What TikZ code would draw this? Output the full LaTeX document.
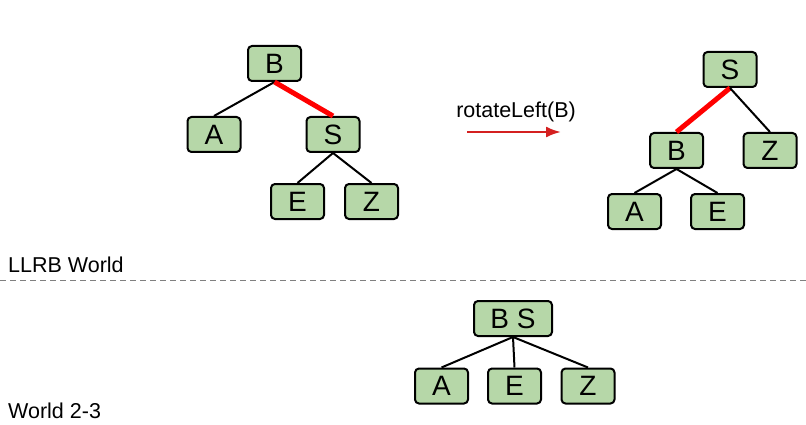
\documentclass[tikz,border=0pt]{standalone}
\usepackage{fontspec}
\setmainfont{Liberation Sans}
\usetikzlibrary{arrows.meta}
\definecolor{leafgreen}{HTML}{B6D7A8}
\definecolor{arrowred}{HTML}{D42020}
\begin{document}
\begin{tikzpicture}[x=1pt, y=-1pt, >={Latex[length=15pt,width=11pt]},
  key/.style={draw, line width=2pt, rounded corners=4pt, fill=leafgreen,
    minimum width=53pt, minimum height=35pt, inner sep=0pt,
    font=\fontsize{28}{28}\selectfont},
  link/.style={line width=2pt},
  redlink/.style={line width=5pt, red},
  world/.style={anchor=west, inner sep=0pt, font=\fontsize{21.5}{21.5}\selectfont}]
  \useasboundingbox (0,0) rectangle (806,425);
  % LLRB, before the rotation
  \node[key] (lB) at (274.5,63.5) {B};
  \node[key] (lA) at (214,134.5) {A};
  \node[key] (lS) at (333,134.5) {S};
  \node[key] (lE) at (297.5,201.5) {E};
  \node[key] (lZ) at (371.5,201.5) {Z};
  \draw[link] (lB.south) -- (lA.north);
  \draw[redlink] (lB.south) -- (lS.north);
  \draw[link] (lS.south) -- (lE.north);
  \draw[link] (lS.south) -- (lZ.north);
  % the rotation
  \coordinate (from) at (467,132);
  \coordinate (to) at (561,132);
  \draw[->, arrowred, line width=2.3pt] (from) -- (to);
  \node[inner sep=0pt, font=\fontsize{21.5}{21.5}\selectfont] (rot) at (516,112) {rotateLeft(B)};
  % LLRB, after the rotation
  \node[key] (rS) at (730,69.5) {S};
  \node[key] (rB) at (676.5,150.5) {B};
  \node[key] (rZ) at (770,150.5) {Z};
  \node[key] (rA) at (634.5,211.5) {A};
  \node[key] (rE) at (717.5,211.5) {E};
  \draw[redlink] (rS.south) -- (rB.north);
  \draw[link] (rS.south) -- (rZ.north);
  \draw[link] (rB.south) -- (rA.north);
  \draw[link] (rB.south) -- (rE.north);
  % the two worlds
  \node[world] (llrb) at (8,265) {LLRB World};
  \coordinate (cutL) at (0,280);
  \coordinate (cutR) at (806,280);
  \draw[gray, line width=0.8pt, dash pattern=on 6pt off 4pt] (cutL) -- (cutR);
  \node[world] (twothree) at (8,411) {World 2-3};
  % 2-3 tree
  \node[key, minimum width=78pt] (tBS) at (513,318.5) {B S};
  \node[key] (tA) at (441.5,386) {A};
  \node[key] (tE) at (514.5,386) {E};
  \node[key] (tZ) at (588,386) {Z};
  \draw[link] (tBS.south) -- (tA.north);
  \draw[link] (tBS.south) -- (tE.north);
  \draw[link] (tBS.south) -- (tZ.north);
\end{tikzpicture}
\end{document}
